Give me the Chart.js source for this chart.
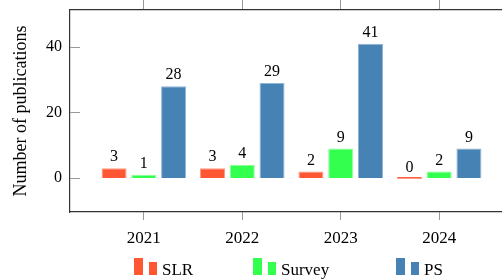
<!DOCTYPE html>
<html>
<head>
<meta charset="utf-8">
<script src="https://cdn.jsdelivr.net/npm/chart.js@4/dist/chart.umd.min.js"></script>
<style>
  html, body { margin: 0; padding: 0; background: #fff; overflow: hidden; }
  #wrap { width: 502px; height: 280px; overflow: hidden; }
  canvas { display: block; }
</style>
</head>
<body>
<div id="wrap"><canvas id="myChart" width="515" height="280"></canvas></div>
<script>
'use strict';

let years = [2021, 2022, 2023, 2024];
let seriesNames = ['SLR', 'Survey', 'PS'];
let slrCounts = [3, 3, 2, 0];
let surveyCounts = [1, 4, 9, 2];
let psCounts = [28, 29, 41, 9];
let yTicks = [0, 20, 40];

let fillColors = ['#ff5733', '#33ff4f', '#4682b4'];
let edgeColors = ['#ff9a85', '#8fff9d', '#8fb4d4'];
let serif = '"Liberation Serif", "DejaVu Serif", serif';

function toPoints(values){
  return values.map((v, i) => ({ x: years[i], y: v }));
}

function noPadding(scale){
  scale.paddingTop = 0;
  scale.paddingBottom = 0;
  scale.paddingLeft = 0;
  scale.paddingRight = 0;
}

// value labels above every bar
const barLabels = {
  id: 'barLabels',
  afterDatasetsDraw(chart){
    let ctx = chart.ctx;
    ctx.save();
    ctx.font = '16px ' + serif;
    ctx.fillStyle = '#000';
    ctx.textAlign = 'center';
    ctx.textBaseline = 'bottom';
    chart.data.datasets.forEach((ds, i) => {
      let meta = chart.getDatasetMeta(i);
      meta.data.forEach((bar, j) => {
        ctx.fillText(String(ds.data[j].y), bar.x, bar.y - 3);
      });
    });
    ctx.restore();
  }
};

// y ticks pointing into the plot, like pgfplots
const innerTicks = {
  id: 'innerTicks',
  afterDraw(chart){
    let ctx = chart.ctx;
    let y = chart.scales.y;
    let area = chart.chartArea;
    ctx.save();
    ctx.strokeStyle = '#999';
    ctx.lineWidth = 1;
    yTicks.forEach(v => {
      let py = Math.round(y.getPixelForValue(v)) + 0.5;
      ctx.beginPath();
      ctx.moveTo(area.left, py);
      ctx.lineTo(area.left + 10, py);
      ctx.stroke();
    });
    ctx.restore();
  }
};

// legend with the little two-bar icons
const barLegend = {
  id: 'barLegend',
  afterDraw(chart){
    let ctx = chart.ctx;
    let startX = [134, 253, 396];
    ctx.save();
    ctx.font = '17px ' + serif;
    ctx.textBaseline = 'alphabetic';
    ctx.textAlign = 'left';
    chart.data.datasets.forEach((ds, i) => {
      let x = startX[i];
      ctx.fillStyle = ds.backgroundColor;
      ctx.fillRect(x, 258, 9, 17);
      ctx.fillRect(x + 15, 262, 8, 13);
      ctx.fillStyle = '#000';
      ctx.fillText(ds.label, x + 28, 275);
    });
    ctx.restore();
  }
};

const ctx = document.getElementById('myChart');

new Chart(ctx, {
  type: 'bar',
  data: {
    datasets: [
      {
        label: seriesNames[0],
        data: toPoints(slrCounts),
        backgroundColor: fillColors[0],
        borderColor: edgeColors[0],
        borderWidth: 1,
        minBarLength: 2
      },
      {
        label: seriesNames[1],
        data: toPoints(surveyCounts),
        backgroundColor: fillColors[1],
        borderColor: edgeColors[1],
        borderWidth: 1
      },
      {
        label: seriesNames[2],
        data: toPoints(psCounts),
        backgroundColor: fillColors[2],
        borderColor: edgeColors[2],
        borderWidth: 1
      }
    ]
  },
  options: {
    responsive: false,
    animation: false,
    devicePixelRatio: 1,
    categoryPercentage: 0.907,
    barPercentage: 0.84,
    layout: { padding: { left: 0, right: 2, top: 0, bottom: 0 } },
    plugins: {
      legend: { display: false },
      tooltip: { enabled: false }
    },
    scales: {
      x: {
        type: 'linear',
        position: 'bottom',
        offset: false,
        min: 2020.25,
        max: 2024.75,
        afterBuildTicks: scale => { scale.ticks = years.map(v => ({ value: v })); },
        afterFit: scale => { scale.height = 68; noPadding(scale); },
        grid: { offset: false, drawOnChartArea: false, tickLength: 8, color: '#999' },
        border: { color: '#333', width: 1.2 },
        ticks: {
          callback: v => String(v),
          padding: 8,
          color: '#000',
          font: { family: serif, size: 17 }
        }
      },
      x2: {
        type: 'linear',
        position: 'top',
        offset: false,
        min: 2020.25,
        max: 2024.75,
        afterBuildTicks: scale => { scale.ticks = years.map(v => ({ value: v })); },
        afterFit: scale => { scale.height = 10; noPadding(scale); },
        grid: { offset: false, drawOnChartArea: false, tickLength: 10, color: '#999' },
        border: { color: '#333', width: 1.2 },
        ticks: { display: false }
      },
      y: {
        min: -10.4,
        max: 51.3,
        afterBuildTicks: scale => { scale.ticks = yTicks.map(v => ({ value: v })); },
        afterFit: scale => { scale.width = 70; noPadding(scale); },
        grid: { display: false, drawTicks: false },
        border: { color: '#333', width: 1.2 },
        ticks: {
          padding: 8,
          color: '#000',
          font: { family: serif, size: 16 }
        },
        title: {
          display: true,
          text: 'Number of publications',
          color: '#000',
          padding: { top: 10, bottom: 0 },
          font: { family: serif, size: 18 }
        }
      }
    }
  },
  plugins: [barLabels, innerTicks, barLegend]
});
</script>
</body>
</html>
